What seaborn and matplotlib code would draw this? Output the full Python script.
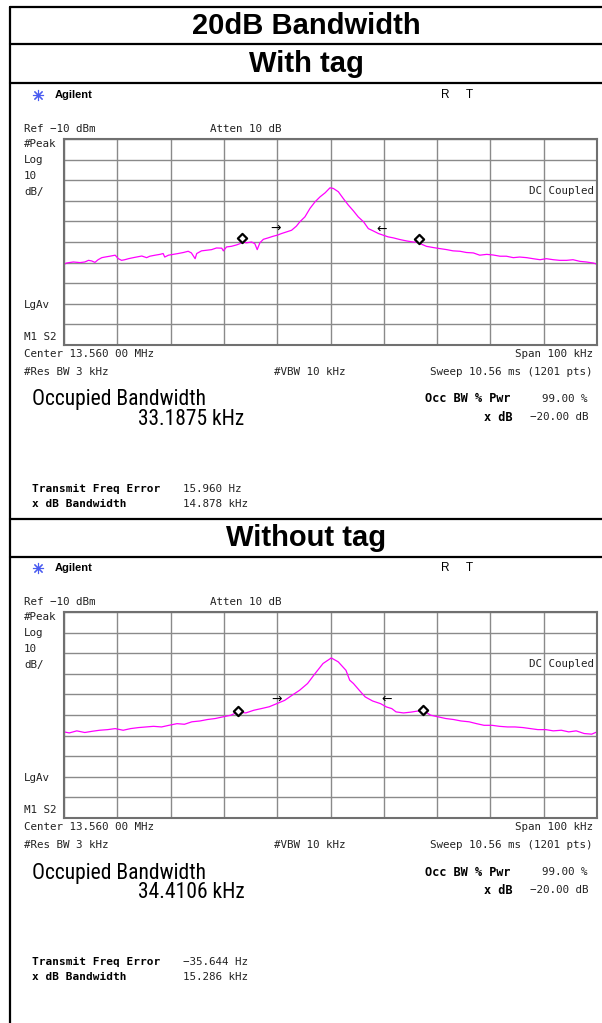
import numpy as np
import pandas as pd
import matplotlib
matplotlib.use("Agg")
import matplotlib.pyplot as plt
from matplotlib.lines import Line2D
from matplotlib import font_manager
import seaborn as sns

# ---------------- data ----------------
panel_titles = ["With tag", "Without tag"]
main_title = "20dB Bandwidth"

# trace 1 (with tag): frequency offset from 13.56 MHz in kHz, level in dBm
freq_tag = [-50.0, -49.5, -48.25, -47.0, -46.1, -45.4, -44.8, -44.2, -43.6, -42.9,
            -42.3, -41.4, -40.4, -39.8, -39.2, -38.6, -37.9, -37.0, -36.4, -35.4,
            -34.5, -33.9, -32.9, -32.0, -31.4, -31.1, -30.4, -29.5, -28.6, -27.6,
            -26.7, -26.1, -25.4, -25.1, -24.2, -23.25, -22.3, -21.4, -20.4, -20.1,
            -19.5, -18.6, -17.6, -17.0, -16.5, -15.75, -14.8, -14.2, -13.75, -13.25,
            -12.6, -11.7, -10.75, -10.0, -9.2, -8.25, -7.3, -6.4, -5.75, -4.8,
            -3.85, -2.9, -1.97, -1.0, -0.1, 0.53, 1.47, 2.4, 3.35, 4.3,
            5.2, 6.2, 7.1, 8.0, 9.0, 9.9, 10.8, 11.8, 13.0, 14.3,
            15.5, 16.5, 17.1, 18.0, 19.3, 20.5, 21.8, 23.0, 24.3, 25.5,
            26.8, 28.0, 29.3, 30.5, 31.8, 33.0, 34.3, 35.5, 36.8, 38.0,
            39.3, 40.5, 41.8, 43.0, 44.3, 45.5, 46.8, 48.0, 49.3, 50.0]
level_tag = [-70.8, -70.2, -69.7, -70.0, -69.7, -68.9, -69.2, -69.9, -68.6, -67.6,
             -67.3, -66.9, -66.4, -68.1, -68.9, -68.6, -68.1, -67.6, -67.3, -66.8,
             -67.6, -66.9, -66.4, -66.0, -65.6, -67.3, -66.4, -66.0, -65.6, -65.1,
             -64.5, -65.3, -68.1, -65.6, -64.3, -64.0, -63.7, -62.9, -63.0, -64.3,
             -62.4, -62.1, -61.4, -60.8, -60.0, -60.4, -60.0, -60.8, -63.7, -60.4,
             -58.7, -58.0, -57.2, -56.7, -55.9, -55.1, -54.3, -52.3, -50.2, -47.8,
             -43.7, -40.5, -38.1, -36.1, -33.7, -34.0, -35.6, -38.9, -42.1, -44.9,
             -47.8, -50.2, -53.5, -54.6, -55.9, -56.7, -57.5, -58.0, -58.8, -59.5,
             -60.0, -60.1, -61.1, -62.1, -62.7, -63.2, -63.7, -64.3, -64.5, -65.1,
             -65.3, -66.4, -66.0, -66.3, -66.9, -66.9, -67.6, -67.3, -67.6, -68.1,
             -68.6, -68.1, -68.6, -68.9, -68.9, -68.6, -69.4, -69.7, -70.2, -70.8]

# trace 2 (without tag)
freq_notag = [-50.0, -49.0, -47.6, -46.1, -44.7, -43.3, -41.8, -40.4, -38.9, -37.5,
              -36.0, -34.6, -33.2, -31.7, -30.3, -28.8, -27.4, -26.0, -24.5, -23.1,
              -21.6, -20.2, -18.7, -17.3, -15.9, -14.4, -13.0, -11.5, -10.1, -8.6,
              -7.2, -5.8, -4.3, -2.9, -1.4, 0.15, 1.45, 2.9, 3.6, 4.3,
              5.4, 6.5, 7.9, 9.4, 10.5, 11.5, 12.3, 13.7, 15.1, 17.3,
              18.8, 20.2, 21.6, 23.1, 24.5, 26.0, 27.4, 28.8, 30.3, 31.7,
              33.2, 34.6, 36.1, 37.5, 38.9, 40.4, 41.8, 43.3, 44.7, 46.1,
              47.6, 49.0, 50.0]
level_notag = [-68.2, -68.7, -67.7, -68.5, -67.9, -67.4, -67.1, -66.6, -67.4, -66.6,
               -66.1, -65.8, -65.5, -65.8, -65.0, -64.2, -64.5, -63.3, -62.9, -62.2,
               -61.7, -60.9, -60.1, -58.5, -59.0, -57.7, -56.9, -56.0, -54.5, -52.9,
               -50.4, -48.0, -44.7, -39.9, -35.0, -32.3, -34.2, -38.3, -43.1, -44.7,
               -48.0, -51.2, -53.2, -54.5, -56.1, -56.9, -58.5, -59.0, -58.6, -57.7,
               -60.1, -60.9, -61.7, -62.2, -62.9, -63.3, -64.2, -65.0, -65.0, -65.5,
               -65.8, -65.8, -66.1, -66.6, -67.1, -67.1, -67.7, -67.4, -68.2, -67.7,
               -69.0, -69.3, -68.2]

# occupied-bandwidth markers (diamonds) and x dB markers (arrows)
obw_freq = [[-16.6, 16.6], [-17.3, 17.3]]
obw_level = [[-58.3, -58.7], [-58.0, -57.7]]
xdb_freq = [[-10.4, 9.6], [-10.1, 10.5]]
xdb_level = [[-53.5, -53.8], [-52.5, -52.5]]

occ_bw = ["33.1875 kHz", "34.4106 kHz"]
freq_err = ["15.960 Hz", "\u221235.644 Hz"]
xdb_bw = ["14.878 kHz", "15.286 kHz"]

# ---------------- figure ----------------
sns.set_style("white")
plt.rcParams["font.family"] = ["DejaVu Sans"]

W, H = 602, 1023
fig = plt.figure(figsize=(W / 100, H / 100), dpi=100)

def fx(px):
    return px / W

def fy(py):
    return 1 - py / H

installed = {f.name for f in font_manager.fontManager.ttflist}
narrow_stretch = "normal"
narrow_size = 11.3
NARROW = ["Liberation Sans", "DejaVu Sans"]
for cand, sz in [("Liberation Sans Narrow", 15.5), ("Roboto Condensed", 15.5),
                 ("DejaVu Sans Condensed", 14.0), ("Open Sans Condensed", 15.5)]:
    if cand in installed:
        NARROW = [cand, "DejaVu Sans"]
        narrow_size = sz
        break
else:
    # DejaVu Sans may have a condensed face registered under the same family
    if any(f.name == "DejaVu Sans" and f.stretch in ("condensed", 300, "semi-condensed")
           for f in font_manager.fontManager.ttflist):
        NARROW = ["DejaVu Sans"]
        narrow_stretch = "condensed"
        narrow_size = 14.0

MONO = ["DejaVu Sans Mono"]
SANS = ["Liberation Sans", "DejaVu Sans"]

def t(px, py, s, ha="left", size=7.8, family=MONO, weight="normal", color="#222222",
      stretch="normal"):
    fig.text(fx(px), fy(py), s, ha=ha, va="center", fontsize=size,
             family=family, fontweight=weight, color=color, fontstretch=stretch)

# table lines
lw_tab = 1.6
for y in [7, 44, 83, 519, 557]:
    fig.add_artist(Line2D([fx(10), 1.0], [fy(y), fy(y)], color="black", lw=lw_tab))
fig.add_artist(Line2D([fx(10), fx(10)], [fy(7), 0.0], color="black", lw=lw_tab))

# header rows
t(306, 26, main_title, ha="center", size=21, family=SANS, weight="bold", color="black")
t(306, 64, panel_titles[0], ha="center", size=21, family=SANS, weight="bold", color="black")
t(306, 538, panel_titles[1], ha="center", size=21, family=SANS, weight="bold", color="black")

traces = [(freq_tag, level_tag), (freq_notag, level_notag)]

for i, (fr, lv) in enumerate(traces):
    off = 473 * i
    # instrument header
    fig.add_artist(Line2D([fx(38)], [fy(95 + off)], marker=(8, 2, 0), markersize=8,
                          color="#4a5cf0", mew=0.8))
    t(55, 95 + off, "Agilent", size=8, family=SANS, weight="bold", color="black")
    t(441, 95 + off, "R", size=8.5, family=SANS, color="black")
    t(466, 95 + off, "T", size=8.5, family=SANS, color="black")

    t(24, 129 + off, "Ref \u221210 dBm")
    t(210, 129 + off, "Atten 10 dB")
    t(24, 144 + off, "#Peak")
    t(24, 160 + off, "Log")
    t(24, 176 + off, "10")
    t(24, 192 + off, "dB/")
    t(24, 305 + off, "LgAv")
    t(24, 337 + off, "M1 S2")
    t(594, 191 + off, "DC Coupled", ha="right")

    t(24, 354 + off, "Center 13.560 00 MHz")
    t(593, 354 + off, "Span 100 kHz", ha="right")
    t(24, 372 + off, "#Res BW 3 kHz")
    t(274, 372 + off, "#VBW 10 kHz")
    t(592, 372 + off, "Sweep 10.56 ms (1201 pts)", ha="right")

    t(32, 400 + off, "Occupied Bandwidth", size=narrow_size, family=NARROW,
      color="black", stretch=narrow_stretch)
    t(138, 419 + off, occ_bw[i], size=narrow_size, family=NARROW, color="black",
      stretch=narrow_stretch)
    t(425, 399 + off, "Occ BW % Pwr", size=8.6, weight="bold", color="black")
    t(588, 399 + off, "99.00 %", ha="right")
    t(513, 417 + off, "x dB", ha="right", size=8.6, weight="bold", color="black")
    t(588, 417 + off, "\u221220.00 dB", ha="right")

    t(32, 489 + off, "Transmit Freq Error", size=8, weight="bold", color="black")
    t(183, 489 + off, freq_err[i])
    t(32, 504 + off, "x dB Bandwidth", size=8, weight="bold", color="black")
    t(183, 504 + off, xdb_bw[i])

    # spectrum axes
    top, bot = 139 + off, 345 + off
    ax = fig.add_axes([fx(64), fy(bot), (597 - 64) / W, (bot - top) / H])
    df = pd.DataFrame({"freq": fr, "level": lv})
    sns.lineplot(data=df, x="freq", y="level", ax=ax, color="#ff00ff", lw=0.9,
                 sort=False, estimator=None)
    ax.scatter(obw_freq[i], obw_level[i], marker="D", s=22, facecolor="white",
               edgecolor="black", linewidths=1.6, zorder=5)
    ax.text(xdb_freq[i][0], xdb_level[i][0], "\u2192", ha="center", va="center",
            fontsize=9, color="black", zorder=6)
    ax.text(xdb_freq[i][1], xdb_level[i][1], "\u2190", ha="center", va="center",
            fontsize=9, color="black", zorder=6)
    ax.set_xlim(-50, 50)
    ax.set_ylim(-110, -10)
    ax.set_xticks(np.arange(-50, 51, 10))
    ax.set_yticks(np.arange(-110, -9, 10))
    ax.grid(True, color="#8a8a8a", lw=1.0)
    ax.tick_params(length=0, labelbottom=False, labelleft=False)
    ax.set_xlabel("")
    ax.set_ylabel("")
    for sp in ax.spines.values():
        sp.set_visible(True)
        sp.set_color("#707070")
        sp.set_linewidth(1.5)

fig.savefig("out.png", dpi=100, facecolor="white")
